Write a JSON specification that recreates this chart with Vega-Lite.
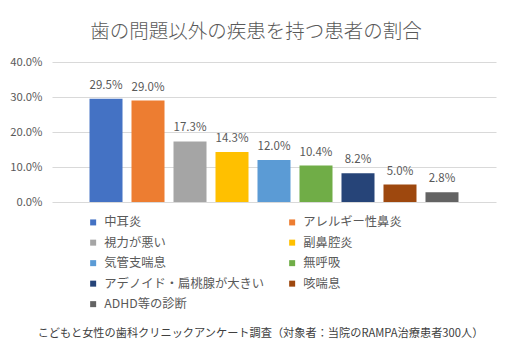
{
  "$schema": "https://vega.github.io/schema/vega-lite/v6.json",
  "width": 444,
  "height": 140,
  "autosize": {"type": "none"},
  "padding": {"left": 52, "top": 62, "right": 16, "bottom": 142},
  "background": "white",
  "title": {
    "text": "歯の問題以外の疾患を持つ患者の割合",
    "font": "Noto Sans CJK JP",
    "fontSize": 19.5,
    "fontWeight": 300,
    "color": "#595959",
    "anchor": "middle",
    "frame": "group",
    "dx": -18,
    "offset": 14
  },
  "data": {
    "values": [
      {"disease": "中耳炎", "rate": 0.295},
      {"disease": "アレルギー性鼻炎", "rate": 0.29},
      {"disease": "視力が悪い", "rate": 0.173},
      {"disease": "副鼻腔炎", "rate": 0.143},
      {"disease": "気管支喘息", "rate": 0.12},
      {"disease": "無呼吸", "rate": 0.104},
      {"disease": "アデノイド・扁桃腺が大きい", "rate": 0.082},
      {"disease": "咳喘息", "rate": 0.05},
      {"disease": "ADHD等の診断", "rate": 0.028}
    ]
  },
  "encoding": {
    "x": {
      "field": "disease",
      "type": "nominal",
      "sort": null,
      "scale": {"paddingInner": 0.214, "paddingOuter": 0.893},
      "axis": {
        "labels": false,
        "ticks": false,
        "domain": false,
        "title": "こどもと女性の歯科クリニックアンケート調査（対象者：当院のRAMPA治療患者300人）",
        "titleFont": "Noto Sans CJK JP",
        "titleFontSize": 11.2,
        "titleFontWeight": "normal",
        "titleColor": "#404040",
        "titleX": 208,
        "titleY": 131,
        "titleBaseline": "middle",
        "titleAlign": "center"
      }
    },
    "y": {
      "field": "rate",
      "type": "quantitative",
      "scale": {"domain": [0, 0.4]},
      "axis": {
        "values": [0, 0.1, 0.2, 0.3, 0.4],
        "format": ".1%",
        "title": null,
        "domain": false,
        "ticks": false,
        "labelPadding": 10,
        "labelFont": "Noto Sans CJK JP",
        "labelFontSize": 11.3,
        "labelColor": "#595959",
        "gridColor": "#D9D9D9",
        "gridWidth": 1
      }
    }
  },
  "layer": [
    {
      "mark": {"type": "bar"},
      "encoding": {
        "color": {
          "field": "disease",
          "type": "nominal",
          "sort": null,
          "scale": {
            "domain": ["中耳炎", "アレルギー性鼻炎", "視力が悪い", "副鼻腔炎", "気管支喘息", "無呼吸", "アデノイド・扁桃腺が大きい", "咳喘息", "ADHD等の診断"],
            "range": ["#4472C4", "#ED7D31", "#A5A5A5", "#FFC000", "#5B9BD5", "#70AD47", "#264478", "#9E480E", "#636363"]
          },
          "legend": {
            "orient": "none",
            "direction": "horizontal",
            "legendX": 35,
            "legendY": 154,
            "columns": 2,
            "columnPadding": 21,
            "rowPadding": 7.5,
            "title": null,
            "symbolType": "square",
            "symbolSize": 36,
            "symbolStrokeWidth": 0,
            "labelOffset": 5,
            "labelFont": "Noto Sans CJK JP",
            "labelFontSize": 12.3,
            "labelColor": "#595959",
            "labelLimit": 300
          }
        }
      }
    },
    {
      "mark": {"type": "text", "baseline": "middle", "dy": -13, "font": "Noto Sans CJK JP", "fontSize": 11.5, "color": "#595959"},
      "encoding": {
        "text": {"field": "rate", "type": "quantitative", "format": ".1%"}
      }
    }
  ],
  "config": {
    "view": {"stroke": null}
  }
}
